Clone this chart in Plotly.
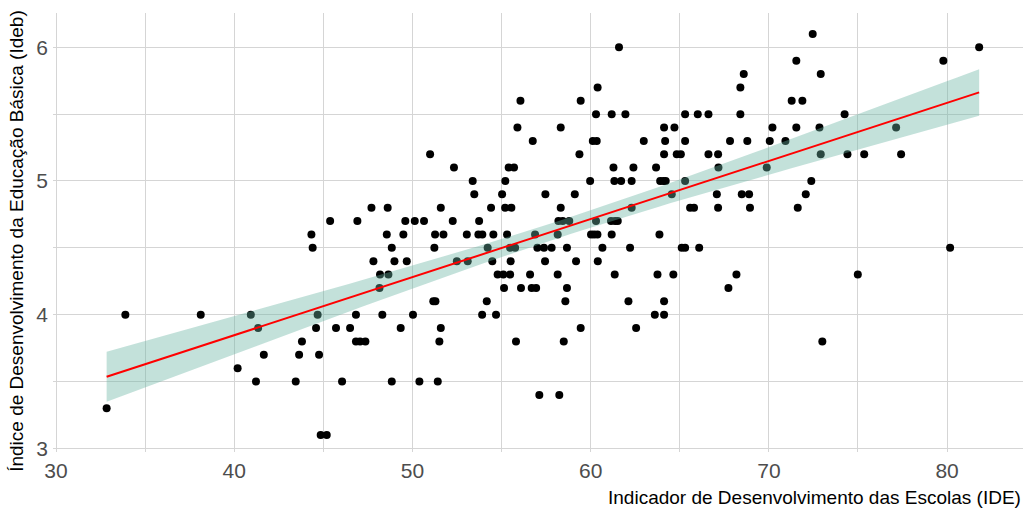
import numpy as np
import plotly.graph_objects as go

# IDE (x) and Ideb (y) values, grouped by Ideb level
ideb_levels = [6.1, 6.0, 5.9, 5.8, 5.7, 5.6, 5.5, 5.4, 5.3, 5.2, 5.1, 5.0, 4.9, 4.8,
               4.7, 4.6, 4.5, 4.4, 4.3, 4.2, 4.1, 4.0, 3.9, 3.8, 3.7, 3.6, 3.5, 3.4,
               3.3, 3.1]
ide_by_level = [
    [72.46],
    [61.59, 81.80],
    [71.54, 79.79],
    [68.59, 72.91],
    [60.39, 68.40],
    [56.06, 59.44, 71.28, 71.88],
    [60.30, 61.18, 61.95, 65.30, 66.01, 66.61, 68.40, 74.25],
    [55.89, 58.32, 64.12, 64.70, 70.20, 71.54, 72.84, 77.14],
    [56.75, 60.12, 60.34, 62.98, 64.18, 65.30, 67.82, 68.79, 70.05, 70.93],
    [50.99, 59.37, 64.12, 64.83, 65.06, 66.61, 67.15, 72.91, 74.41, 75.35, 77.42],
    [52.33, 55.40, 55.70, 61.28, 62.40, 63.67, 67.17, 69.88],
    [53.38, 55.21, 59.97, 61.33, 61.71, 62.30, 63.90, 64.08, 64.21, 65.30, 72.38],
    [53.47, 55.03, 57.46, 59.11, 64.55, 67.08, 68.48, 68.89, 72.07],
    [47.70, 48.61, 51.59, 54.41, 55.20, 55.55, 58.32, 62.30, 65.58, 65.80, 67.15,
     68.94, 71.62],
    [45.38, 46.91, 49.60, 50.13, 50.65, 52.26, 53.74, 58.19, 58.43, 58.80, 60.30,
     61.14, 61.37, 61.52],
    [44.33, 48.56, 49.49, 51.27, 51.74, 53.05, 53.70, 53.92, 54.54, 55.31, 56.88,
     58.15, 60.02, 60.19, 60.38, 61.18, 63.86],
    [44.40, 48.84, 51.23, 54.22, 55.48, 55.76, 57.01, 57.38, 57.81, 58.67, 60.66,
     62.21, 65.11, 65.30, 66.09, 80.17],
    [47.81, 48.99, 49.68, 52.49, 53.10, 54.48, 55.51, 57.44, 59.18, 60.40],
    [48.18, 48.65, 54.78, 55.10, 55.48, 56.60, 58.15, 61.35, 63.75, 64.64, 68.18,
     74.99],
    [48.15, 55.14, 56.09, 56.69, 56.94, 58.67, 67.73],
    [51.17, 51.29, 54.17, 58.58, 62.12, 64.12],
    [33.89, 38.12, 40.93, 44.68, 46.83, 48.31, 50.03, 53.91, 54.69, 63.60, 64.12],
    [41.34, 44.59, 45.71, 46.50, 49.34, 51.59, 59.44, 62.55],
    [43.80, 46.83, 47.06, 47.36, 51.51, 55.81, 58.49, 73.00],
    [41.66, 43.64, 44.76],
    [40.19],
    [41.22, 43.45, 46.05, 48.84, 50.39, 51.42],
    [57.12, 58.24],
    [32.84],
    [44.85, 45.19],
]

x_ticks = [30, 40, 50, 60, 70, 80]
y_ticks = [3, 4, 5, 6]
x_title = "Indicador de Desenvolvimento das Escolas (IDE)"
y_title = "Índice de Desenvolvimento da Educação Básica (Ideb)"

ide = np.array([v for row in ide_by_level for v in row])
ideb = np.array([lvl for lvl, row in zip(ideb_levels, ide_by_level) for _ in row])

# linear model with 95% confidence band (as geom_smooth(method="lm"))
n = len(ide)
b1, b0 = np.polyfit(ide, ideb, 1)
resid = ideb - (b0 + b1 * ide)
s = np.sqrt(np.sum(resid ** 2) / (n - 2))
xbar = ide.mean()
sxx = np.sum((ide - xbar) ** 2)
xf = np.linspace(ide.min(), ide.max(), 80)
yf = b0 + b1 * xf
se = s * np.sqrt(1.0 / n + (xf - xbar) ** 2 / sxx)
tcrit = 1.9713
lo = yf - tcrit * se
hi = yf + tcrit * se

fig = go.Figure()
fig.add_trace(go.Scatter(x=ide, y=ideb, mode="markers",
                         marker=dict(color="black", size=8, line=dict(width=0)),
                         hoverinfo="skip", showlegend=False))
fig.add_trace(go.Scatter(x=xf, y=lo, mode="lines", line=dict(width=0),
                         hoverinfo="skip", showlegend=False))
fig.add_trace(go.Scatter(x=xf, y=hi, mode="lines", line=dict(width=0),
                         fill="tonexty", fillcolor="rgba(105,179,162,0.4)",
                         hoverinfo="skip", showlegend=False))
fig.add_trace(go.Scatter(x=xf, y=yf, mode="lines", line=dict(color="red", width=2),
                         hoverinfo="skip", showlegend=False))

grid = "#d5d5d5"
fig.update_layout(
    width=1025, height=509,
    margin=dict(l=53, r=2, t=13, b=57),
    paper_bgcolor="white", plot_bgcolor="white",
    font=dict(family="Liberation Sans, Arial, sans-serif", color="#4d4d4d"),
    xaxis=dict(range=[29.83, 84.26], tickvals=x_ticks, showgrid=True, gridcolor=grid,
               gridwidth=1, zeroline=False, showline=False, ticks="",
               tickfont=dict(size=21, color="#4d4d4d"),
               minor=dict(dtick=5, tick0=0, showgrid=True, gridcolor=grid, gridwidth=1),
               ticklabelstandoff=4),
    yaxis=dict(range=[2.973, 6.2565], tickvals=y_ticks, showgrid=True, gridcolor=grid,
               gridwidth=1, zeroline=False, showline=False, ticks="",
               tickfont=dict(size=21, color="#4d4d4d"),
               minor=dict(dtick=0.5, tick0=0, showgrid=True, gridcolor=grid, gridwidth=1),
               ticklabelstandoff=4),
    annotations=[
        dict(text=x_title, xref="paper", yref="paper", x=1, y=0, xanchor="right",
             yanchor="top", yshift=-33, showarrow=False,
             font=dict(size=19, color="black")),
        dict(text=y_title, xref="paper", yref="paper", x=0, y=0.481, xanchor="center",
             yanchor="middle", xshift=-36, textangle=-90, showarrow=False,
             font=dict(size=19, color="black")),
    ],
)

fig.write_html("out.html", config=dict(displayModeBar=False))
